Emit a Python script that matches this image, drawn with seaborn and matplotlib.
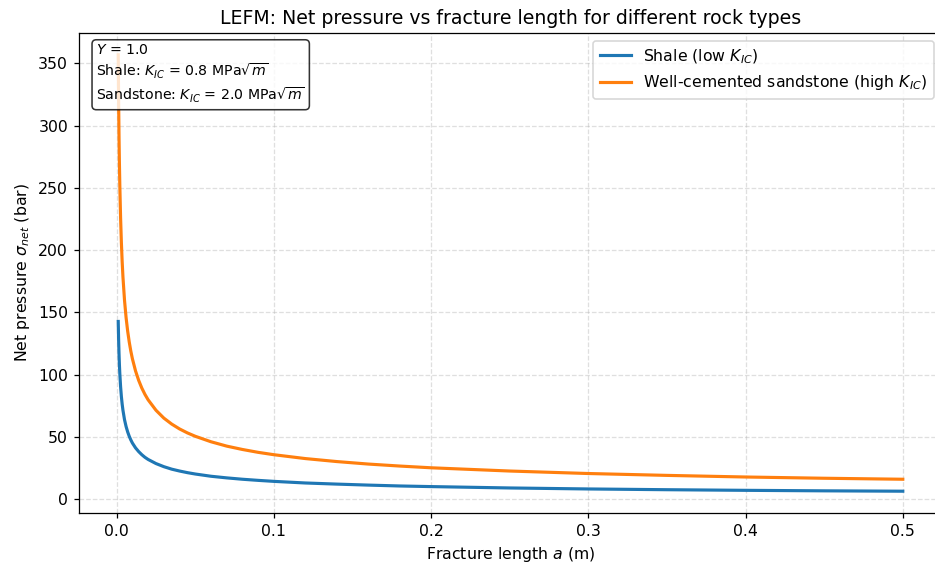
import matplotlib
matplotlib.use("Agg")
import matplotlib.pyplot as plt
import numpy as np
import pandas as pd
import seaborn as sns

# fracture length a (m)
a_m = [0.001, 0.00125, 0.0015, 0.00175, 0.002, 0.0025, 0.003, 0.0035, 0.004, 0.005,
       0.006, 0.007, 0.008, 0.009, 0.01, 0.012, 0.014, 0.016, 0.018, 0.02,
       0.025, 0.03, 0.035, 0.04, 0.045, 0.05, 0.06, 0.07, 0.08, 0.09,
       0.1, 0.12, 0.14, 0.16, 0.18, 0.2, 0.25, 0.3, 0.35, 0.4,
       0.45, 0.5]

# net pressure (bar)
shale_bar = [142.7, 127.7, 116.5, 107.9, 100.9, 90.3, 82.4, 76.3, 71.4, 63.8,
             58.3, 54.0, 50.5, 47.6, 45.1, 41.2, 38.2, 35.7, 33.6, 31.9,
             28.6, 26.1, 24.1, 22.6, 21.3, 20.2, 18.4, 17.1, 16.0, 15.1,
             14.3, 13.0, 12.1, 11.3, 10.6, 10.1, 9.0, 8.2, 7.6, 7.1,
             6.7, 6.4]
sandstone_bar = [356.8, 319.1, 291.3, 269.7, 252.3, 225.7, 206.0, 190.7, 178.4, 159.6,
                 145.7, 134.9, 126.2, 118.9, 112.8, 103.0, 95.4, 89.2, 84.1, 79.8,
                 71.4, 65.1, 60.3, 56.4, 53.2, 50.5, 46.1, 42.6, 39.9, 37.6,
                 35.7, 32.6, 30.2, 28.2, 26.6, 25.2, 22.6, 20.6, 19.1, 17.8,
                 16.8, 16.0]

series_labels = [r"Shale (low $K_{IC}$)", r"Well-cemented sandstone (high $K_{IC}$)"]
series_colors = ["#1f77b4", "#ff7f0e"]

df = pd.DataFrame({
    "a": a_m + a_m,
    "sigma": shale_bar + sandstone_bar,
    "rock": [series_labels[0]] * len(a_m) + [series_labels[1]] * len(a_m),
})

plt.rcParams["font.family"] = ["DejaVu Sans"]

DPI = 113
fig = plt.figure(figsize=(935 / DPI, 566 / DPI), dpi=DPI)
# the right spine sits just past the image edge, as in the reference crop
ax = fig.add_axes([0.0845, 0.0936, 0.923, 0.8481])

sns.lineplot(data=df, x="a", y="sigma", hue="rock", palette=series_colors,
             linewidth=2, ax=ax, sort=False)

ax.set_xlabel(r"Fracture length $a$ (m)")
ax.set_ylabel(r"Net pressure $\sigma_{net}$ (bar)")
ax.set_title("LEFM: Net pressure vs fracture length for different rock types", fontsize=12)
ax.grid(True, linestyle="--", alpha=0.4)

leg = ax.legend(loc="upper right", fontsize=10)
leg.set_title(None)

info = (r"$Y$ = 1.0" "\n"
        r"Shale: $K_{IC}$ = 0.8 MPa$\sqrt{m}$" "\n"
        r"Sandstone: $K_{IC}$ = 2.0 MPa$\sqrt{m}$")
ax.text(0.02, 0.98, info, transform=ax.transAxes, fontsize=9, va="top", ha="left",
        linespacing=1.35,
        bbox=dict(boxstyle="round", facecolor="white", alpha=0.8))

fig.savefig("out.png", dpi=DPI)
